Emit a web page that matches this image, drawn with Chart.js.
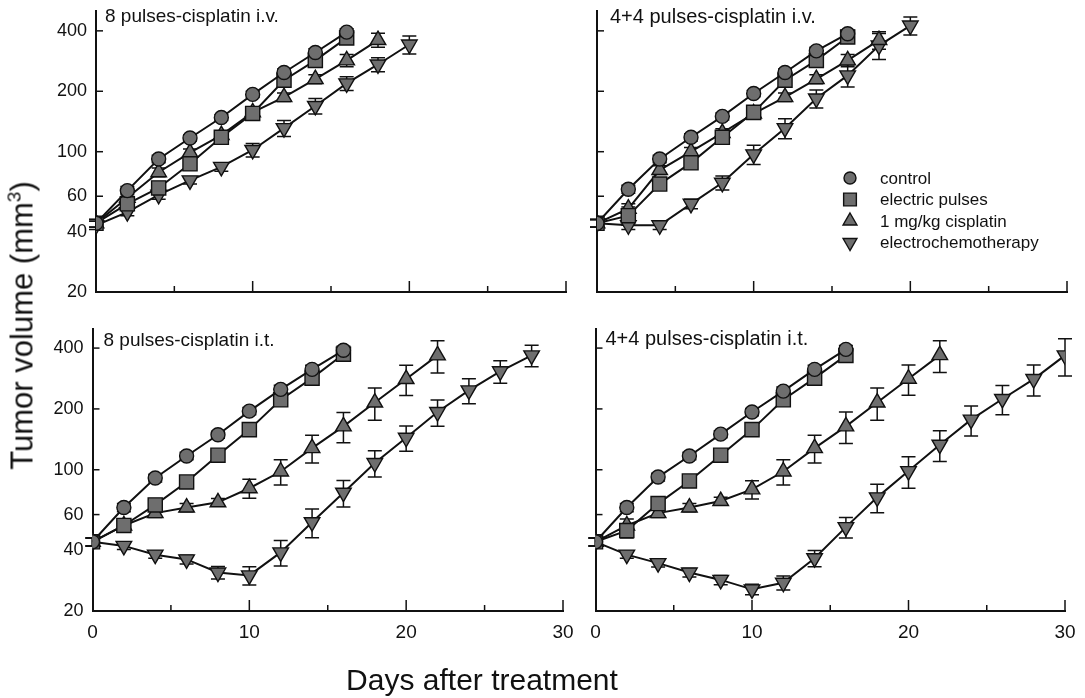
<!DOCTYPE html>
<html>
<head>
<meta charset="utf-8">
<title>Tumor volume after treatment</title>
<script src="https://cdn.jsdelivr.net/npm/chart.js@4.4.1/dist/chart.umd.min.js"></script>
<style>
  html, body { margin: 0; padding: 0; background: #fff; }
  #wrap {
    position: relative;
    width: 1085px;
    height: 698px;
    overflow: hidden;
    background: #fff;
    font-family: "Liberation Sans", Arial, sans-serif;
    color: #111;
  }
  #wrap canvas { position: absolute; left: 0; top: 0; }
  .ytitle {
    position: absolute;
    left: 22px;
    top: 325px;
    width: 420px;
    height: 31px;
    margin-left: -210px;
    margin-top: -15.5px;
    font-size: 31px;
    line-height: 31px;
    text-align: center;
    white-space: nowrap;
    transform: rotate(-90deg);
  }
  .ytitle sup { font-size: 19px; vertical-align: 12px; line-height: 0; }
  .xtitle {
    position: absolute;
    left: 282px;
    top: 665px;
    width: 400px;
    font-size: 30px;
    line-height: 30px;
    text-align: center;
    white-space: nowrap;
  }
</style>
</head>
<body>
<div id="wrap">
  <canvas id="panelA" width="1085" height="698"></canvas>
  <canvas id="panelB" width="1085" height="698"></canvas>
  <canvas id="panelC" width="1085" height="698"></canvas>
  <canvas id="panelD" width="1085" height="698"></canvas>
  <div class="ytitle">Tumor volume (mm<sup>3</sup>)</div>
  <div class="xtitle">Days after treatment</div>
</div>
<script>
// Days after treatment (measurement days)
const days = [0, 2, 4, 6, 8, 10, 12, 14, 16, 18, 20, 22, 24, 26, 28, 30];
const seriesNames = ["control", "electric pulses", "1 mg/kg cisplatin", "electrochemotherapy"];
const yTickValues = [20, 40, 60, 100, 200, 400];
const xTickValues = [0, 10, 20, 30];
const panelTitles = [
  "8 pulses-cisplatin i.v.",
  "4+4 pulses-cisplatin i.v.",
  "8 pulses-cisplatin i.t.",
  "4+4 pulses-cisplatin i.t.",
];

// 8 pulses - cisplatin i.v.
const ivControl8 = [44, 64, 92, 117, 148, 193, 248, 312, 394];
const ivPulses8 = [44, 55, 66, 87, 118, 155, 227, 285, 369];
const ivCis8 = [44, 59, 79, 99, 121, 157, 187, 230, 285, 360];
const ivEct8 = [43, 50, 61, 72, 84, 102, 131, 169, 219, 272, 342];
const ivControl8Err = [2, 3, 4, 4, 5, 7, 10, 14, 16];
const ivPulses8Err = [2, 3, 4, 5, 6, 8, 12, 14, 18];
const ivCis8Err = [2, 3, 4, 4, 5, 7, 9, 12, 20, 29];
const ivEct8Err = [2, 2, 3, 3, 4, 8, 12, 15, 17, 22, 35];

// 4+4 pulses - cisplatin i.v.
const ivControl44 = [44, 65, 92, 118, 150, 195, 248, 318, 387];
const ivPulses44 = [44, 48, 69, 88, 118, 157, 227, 285, 373];
const ivCis44 = [44, 52, 81, 100, 124, 155, 187, 230, 285, 360];
const ivEct44 = [44, 43, 43, 55, 70, 97, 131, 184, 240, 338, 425];
const ivControl44Err = [2, 3, 4, 5, 6, 7, 10, 13, 16];
const ivPulses44Err = [2, 5, 4, 5, 6, 8, 14, 15, 20];
const ivCis44Err = [2, 3, 4, 5, 6, 7, 9, 12, 20, 36];
const ivEct44Err = [2, 2, 2, 3, 5.6, 10.6, 15, 19, 30, 50, 44];

// 8 pulses - cisplatin i.t.
const itControl8 = [44, 65, 91, 117, 149, 195, 250, 314, 390];
const itPulses8 = [44, 53, 67, 87, 118, 158, 222, 284, 373];
const itCis8 = [44, 53, 61, 65, 69, 81, 98, 128, 164, 215, 281, 368];
const itEct8 = [44, 42, 38, 36, 31, 30, 39, 55, 77, 108, 144, 193, 247, 307, 368];
const itControl8Err = [2, 3, 4, 5, 6, 8, 12, 15, 18];
const itPulses8Err = [2, 3, 4, 5, 6, 8, 14, 16, 20];
const itCis8Err = [2, 3, 3, 3, 3, 8.8, 14, 20, 28, 39, 48, 67];
const itEct8Err = [2, 1.7, 1.5, 1.8, 2.2, 3.1, 5.6, 8.9, 11.5, 16, 20.6, 28.7, 35, 39, 45];

// 4+4 pulses - cisplatin i.t.
const itControl44 = [44, 65, 92, 117, 150, 193, 245, 314, 394];
const itPulses44 = [44, 50, 68, 88, 118, 158, 222, 284, 368];
const itCis44 = [44, 53, 61, 65, 70, 80, 98, 128, 164, 215, 282, 369];
const itEct44 = [44, 38, 34.5, 31, 28.5, 25.6, 27.6, 36.5, 52, 73, 98.5, 133, 177, 224, 281, 368];
const itControl44Err = [2, 3, 4, 5, 6, 8, 12, 15, 18];
const itPulses44Err = [2, 4, 4, 5, 6, 8, 14, 16, 20];
const itCis44Err = [2, 4, 3, 3, 3, 8.3, 14, 20, 29, 39, 48, 66];
const itEct44Err = [2, 1.5, 1.5, 1.5, 1.5, 1.5, 2.2, 3.4, 6, 11.7, 17.4, 23, 30, 37, 49, 77];

const FONT = "'Liberation Sans', Arial, sans-serif";
const INK = "#111";
const MARKER_FILL = "#6e6e6e";
const pointStyles = ["circle", "rect", "triangle", "triangle"];
const pointRotations = [0, 0, 0, 180];
const pointRadii = [7, 10, 9, 9];
const Y_AXIS_W = 60;
const X_AXIS_H = 40;

// Error bars, inward tick marks, panel title and the legend
const decorPlugin = {
  id: "panelDecor",
  beforeDatasetsDraw(chart) {
    const { ctx } = chart;
    const xs = chart.scales.x;
    const ys = chart.scales.y;
    ctx.save();
    ctx.strokeStyle = INK;
    ctx.lineWidth = 1.5;
    chart.data.datasets.forEach((ds) => {
      ds.data.forEach((pt, k) => {
        const err = ds.errors[k];
        const px = xs.getPixelForValue(pt.x);
        const top = ys.getPixelForValue(pt.y + err);
        const bot = ys.getPixelForValue(pt.y - err);
        ctx.beginPath();
        ctx.moveTo(px, top);
        ctx.lineTo(px, bot);
        ctx.moveTo(px - 7, top);
        ctx.lineTo(px + 7, top);
        ctx.moveTo(px - 7, bot);
        ctx.lineTo(px + 7, bot);
        ctx.stroke();
      });
    });
    ctx.restore();
  },
  afterDraw(chart, args, opts) {
    const { ctx, chartArea } = chart;
    const xs = chart.scales.x;
    const ys = chart.scales.y;
    ctx.save();
    ctx.strokeStyle = INK;
    ctx.lineWidth = 1.5;
    // x ticks pointing up into the plot
    [5, 10, 15, 20, 25, 30].forEach((d) => {
      const px = xs.getPixelForValue(d);
      const len = d % 10 === 0 ? 11 : 6;
      ctx.beginPath();
      ctx.moveTo(px, chartArea.bottom);
      ctx.lineTo(px, chartArea.bottom - len);
      ctx.stroke();
    });
    // y ticks pointing right into the plot
    [60, 100, 200, 400].forEach((v) => {
      const py = ys.getPixelForValue(v);
      ctx.beginPath();
      ctx.moveTo(chartArea.left, py);
      ctx.lineTo(chartArea.left + 7, py);
      ctx.stroke();
    });

    // panel title
    ctx.fillStyle = INK;
    ctx.font = opts.titleSize + "px " + FONT;
    ctx.textAlign = "left";
    ctx.textBaseline = "alphabetic";
    ctx.fillText(opts.title, chartArea.left + opts.titleDx, chartArea.top + opts.titleDy);

    if (opts.legend) {
      ctx.font = "17px " + FONT;
      ctx.textBaseline = "middle";
      chart.data.datasets.forEach((ds, i) => {
        const ly = opts.legendY + i * 21.5;
        ctx.fillStyle = MARKER_FILL;
        ctx.strokeStyle = INK;
        ctx.lineWidth = 1.4;
        Chart.helpers.drawPoint(ctx, {
          pointStyle: pointStyles[i],
          rotation: pointRotations[i],
          radius: pointRadii[i] - 1,
          borderWidth: 1.4,
        }, opts.legendX, ly);
        ctx.fillStyle = INK;
        ctx.fillText(ds.label, opts.legendX + 30, ly + 1);
      });
    }
    ctx.restore();
  },
};

function makePanel(canvasId, cfg) {
  const datasets = cfg.series.map((values, i) => ({
    label: seriesNames[i],
    data: values.map((v, k) => ({ x: days[k], y: v })),
    errors: cfg.errors[i],
    borderColor: INK,
    borderWidth: 2,
    fill: false,
    tension: 0,
    pointStyle: pointStyles[i],
    pointRotation: pointRotations[i],
    pointRadius: pointRadii[i],
    pointBackgroundColor: MARKER_FILL,
    pointBorderColor: INK,
    pointBorderWidth: 1.4,
  }));

  new Chart(document.getElementById(canvasId), {
    type: "line",
    data: { datasets },
    options: {
      responsive: false,
      animation: false,
      events: [],
      layout: {
        padding: {
          left: cfg.area.left - Y_AXIS_W,
          right: 1085 - cfg.area.right,
          top: cfg.area.top,
          bottom: 698 - cfg.area.bottom - X_AXIS_H,
        },
      },
      scales: {
        x: {
          type: "linear",
          min: 0,
          max: 30,
          afterBuildTicks: (s) => {
            s.ticks = xTickValues.map((v) => ({ value: v }));
          },
          afterFit: (s) => {
            s.height = X_AXIS_H;
            s.paddingLeft = 0;
            s.paddingRight = 0;
          },
          grid: { display: false, drawTicks: false },
          border: { display: true, color: INK, width: 2 },
          ticks: {
            display: cfg.xLabels,
            padding: 10,
            color: INK,
            maxRotation: 0,
            autoSkip: false,
            font: { family: FONT, size: 19 },
          },
        },
        y: {
          type: "logarithmic",
          min: 20,
          max: 500,
          afterBuildTicks: (s) => {
            s.ticks = yTickValues.map((v) => ({ value: v }));
          },
          afterFit: (s) => {
            s.width = Y_AXIS_W;
            s.paddingTop = 0;
            s.paddingBottom = 0;
          },
          grid: { display: false, drawTicks: false },
          border: { display: true, color: INK, width: 2 },
          ticks: {
            display: cfg.yLabels,
            padding: 9,
            color: INK,
            autoSkip: false,
            font: { family: FONT, size: 18 },
            callback: (v) => String(v),
          },
        },
      },
      plugins: {
        legend: { display: false },
        tooltip: { enabled: false },
        panelDecor: {
          title: cfg.title,
          titleSize: cfg.titleSize,
          titleDx: cfg.titleDx,
          titleDy: cfg.titleDy,
          legend: cfg.legend,
          legendX: 850,
          legendY: 178,
        },
      },
    },
    plugins: [decorPlugin],
  });
}

makePanel("panelA", {
  title: panelTitles[0],
  series: [ivControl8, ivPulses8, ivCis8, ivEct8],
  errors: [ivControl8Err, ivPulses8Err, ivCis8Err, ivEct8Err],
  area: { left: 96, right: 566, top: 10.5, bottom: 292 },
  xLabels: false,
  yLabels: true,
  legend: false,
  titleSize: 19,
  titleDx: 9,
  titleDy: 11,
});

makePanel("panelB", {
  title: panelTitles[1],
  series: [ivControl44, ivPulses44, ivCis44, ivEct44],
  errors: [ivControl44Err, ivPulses44Err, ivCis44Err, ivEct44Err],
  area: { left: 597, right: 1067, top: 10.5, bottom: 292 },
  xLabels: false,
  yLabels: false,
  legend: true,
  titleSize: 20,
  titleDx: 13,
  titleDy: 12,
});

makePanel("panelC", {
  title: panelTitles[2],
  series: [itControl8, itPulses8, itCis8, itEct8],
  errors: [itControl8Err, itPulses8Err, itCis8Err, itEct8Err],
  area: { left: 92.5, right: 563, top: 328.5, bottom: 611 },
  xLabels: true,
  yLabels: true,
  legend: false,
  titleSize: 19,
  titleDx: 11,
  titleDy: 17,
});

makePanel("panelD", {
  title: panelTitles[3],
  series: [itControl44, itPulses44, itCis44, itEct44],
  errors: [itControl44Err, itPulses44Err, itCis44Err, itEct44Err],
  area: { left: 595.5, right: 1065, top: 328.5, bottom: 611 },
  xLabels: true,
  yLabels: false,
  legend: false,
  titleSize: 20,
  titleDx: 10,
  titleDy: 16,
});
</script>
</body>
</html>
